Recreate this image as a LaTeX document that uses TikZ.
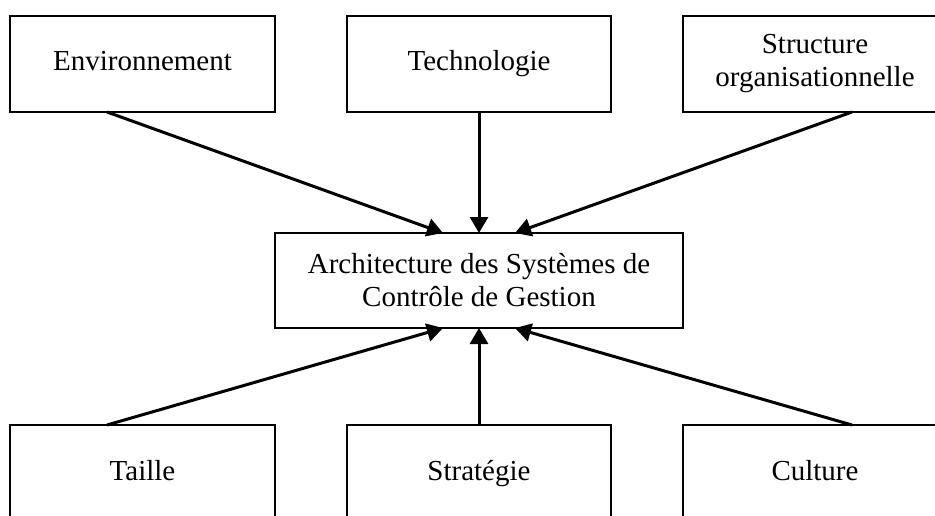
\documentclass[tikz,border=0pt]{standalone}
\usepackage{fontspec}
\setmainfont{Liberation Serif}
\usetikzlibrary{arrows.meta,positioning}

\begin{document}
\begin{tikzpicture}[x=1pt,y=-1pt,
            facteur/.style={draw=black, line width=2pt, inner sep=0pt, outer sep=0pt,
              align=center, font=\fontsize{29}{33}\selectfont},
            uneligne/.style={facteur, text height=20pt, text depth=6pt},
            fleche/.style={draw=black, line width=3pt, -{Triangle[length=16pt,width=18pt]}}]
            \useasboundingbox (0,0) rectangle (935,516);
            \node [uneligne, minimum width=265pt, minimum height=96pt] (env) at (142.5,64) {Environnement};
            \node [uneligne, minimum width=264pt, minimum height=96pt] (tech) at (479,64) {Technologie};
            \node [facteur, minimum width=264pt, minimum height=96pt] (struct) at (815,64) {Structure\\organisationnelle};
            \node [facteur, minimum width=408pt, minimum height=95pt] (ascg) at (479,280.5) {Architecture des Syst\`emes de\\Contr\^ole de Gestion};
            \node [uneligne, minimum width=265pt, minimum height=96pt] (taille) at (142.5,473) {Taille};
            \node [uneligne, minimum width=264pt, minimum height=96pt] (strat) at (479,473) {Strat\'egie};
            \node [uneligne, minimum width=264pt, minimum height=96pt] (cult) at (815,473) {Culture};
            \draw [fleche] ([xshift=97pt]env.south west) -- ([xshift=-36pt]ascg.north);
            \draw [fleche] (tech.south) -- (ascg.north);
            \draw [fleche] ([xshift=-95pt]struct.south east) -- ([xshift=36pt]ascg.north);
            \draw [fleche] ([xshift=97pt]taille.north west) -- ([xshift=-36pt]ascg.south);
            \draw [fleche] (strat.north) -- (ascg.south);
            \draw [fleche] ([xshift=-95pt]cult.north east) -- ([xshift=36pt]ascg.south);
\end{tikzpicture}
\end{document}
